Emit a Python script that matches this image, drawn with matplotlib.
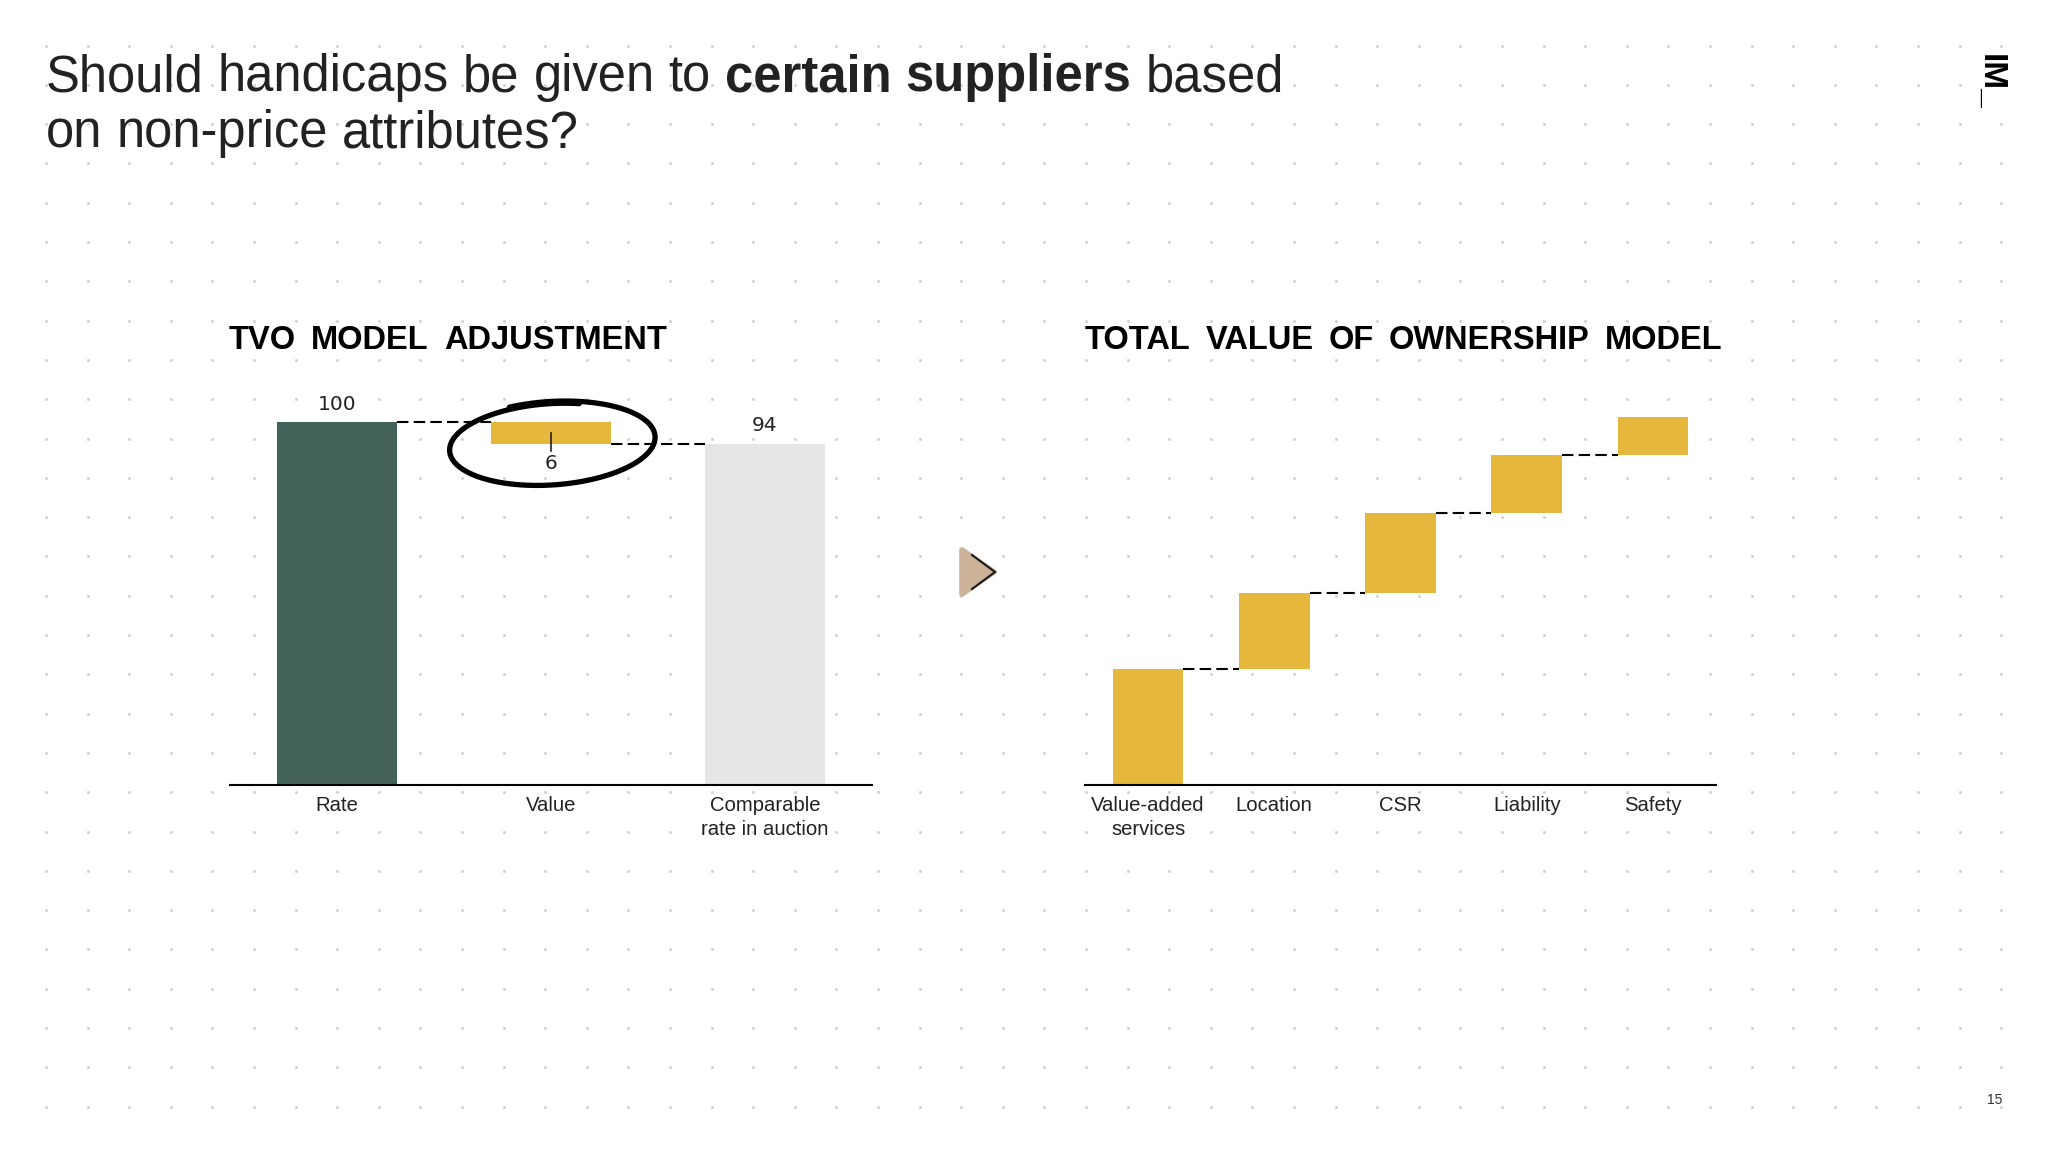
import numpy as np
import matplotlib.pyplot as plt
from matplotlib.patches import Polygon
from matplotlib.transforms import ScaledTranslation

# ── Data ────────────────────────────────────────────────────
tvo_labels = ["Rate", "Value", "Comparable\nrate in auction"]
tvo_values = [100, -6, 94]
tvo_kinds = ["total", "delta", "total"]

tov_labels = ["Value-added\nservices", "Location", "CSR", "Liability", "Safety"]
tov_steps = [32, 21, 22, 16, 10.5]

# ── Style ───────────────────────────────────────────────────
GREEN = "#43625A"
GOLD = "#E5B73C"
GREY = "#E6E6E6"
TAN = "#CBB299"
DOT = "#D4D4D4"
SANS = ["Liberation Sans", "DejaVu Sans"]
NUM = ["DejaVu Sans"]

W, H = 2048, 1152
BAR_W = 0.56
LABEL_SIZE = 14.6
DASH = dict(color="black", lw=1.5, ls=(0, (5.5, 2.5)), zorder=3)

fig = plt.figure(figsize=(W / 100, H / 100), dpi=100, facecolor="white")

# background layer in pixel coordinates (dot grid, texts, arrow)
bg = fig.add_axes([0, 0, 1, 1], zorder=0)
bg.set_xlim(0, W)
bg.set_ylim(H, 0)
bg.axis("off")
gx, gy = np.meshgrid(46 + 41.6 * np.arange(48), 45.5 + 39.3 * np.arange(28))
bg.scatter(gx.ravel(), gy.ravel(), s=5, color=DOT, linewidths=0)

renderer = fig.canvas.get_renderer()


def word_run(x, y, pieces, size, gap, **kw):
    """Lay out (text, weight) pieces one after another on a baseline."""
    for piece, weight in pieces:
        for word in piece.split(" "):
            t = bg.text(x, y, word, fontsize=size, family=SANS, weight=weight,
                        va="baseline", **kw)
            x = t.get_window_extent(renderer).x1 + gap


# ── Slide title (mixed weight) ──────────────────────────────
TITLE_SIZE = 36.5
word_run(46, 91, [("Should handicaps be given to", "normal"),
                  ("certain suppliers", "bold"),
                  ("based", "normal")], TITLE_SIZE, 14, color="#222222")
word_run(46, 147, [("on non-price attributes?", "normal")], TITLE_SIZE, 14,
         color="#222222")

# logo + page number
bg.text(1990, 82, "IM_", rotation=-90, fontsize=24, weight="bold",
        family=SANS, ha="center", va="center", color="black")
bg.text(1995, 1100, "15", fontsize=10, family=SANS, ha="center",
        va="center", color="#333333")

# chart titles
word_run(229, 349, [("TVO MODEL ADJUSTMENT", "bold")], 23.5, 15, color="black")
word_run(1085, 349, [("TOTAL VALUE OF OWNERSHIP MODEL", "bold")], 23.5, 15,
         color="black")

# arrow between the charts
bg.add_patch(Polygon([(962, 550), (962, 594), (994, 572)], closed=True,
                     facecolor=TAN, edgecolor=TAN, lw=4, joinstyle="round"))
bg.plot([972, 995, 972], [555, 572, 589], color="#1a1a1a", lw=1.5,
        solid_joinstyle="miter")


def style_axes(ax, n, labels):
    ax.set_facecolor("none")
    ax.set_xlim(-0.5, n - 0.5)
    ax.set_ylim(0, 110)
    for side in ["top", "right", "left"]:
        ax.spines[side].set_visible(False)
    ax.spines["bottom"].set_linewidth(1.5)
    ax.spines["bottom"].set_zorder(4)
    ax.set_yticks([])
    ax.set_xticks(range(n))
    ax.set_xticklabels(labels, fontsize=LABEL_SIZE, family=SANS,
                       color="#222222", linespacing=1.3)
    ax.tick_params(axis="x", length=0, pad=8)


AX_H = 110 * 3.63 / H

# ── Left: TVO model adjustment waterfall ────────────────────
ax1 = fig.add_axes([230 / W, 1 - 785 / H, 642 / W, AX_H], zorder=1)
style_axes(ax1, len(tvo_labels), tvo_labels)

total_colors = [GREEN, GREY]
running = 0
tops = []
k = 0
for i, (v, kind) in enumerate(zip(tvo_values, tvo_kinds)):
    if kind == "total":
        bottom, height, c = 0, v, total_colors[k]
        k += 1
        running = v
    else:
        bottom, height, c = running + min(v, 0), abs(v), GOLD
        running = running + v
    ax1.bar(i, height, bottom=bottom, width=BAR_W, color=c, zorder=2)
    tops.append((bottom, bottom + height))

# connectors
ax1.plot([0 + BAR_W / 2, 1 - BAR_W / 2], [tops[0][1]] * 2, **DASH)
ax1.plot([1 + BAR_W / 2, 2 - BAR_W / 2], [tops[1][0]] * 2, **DASH)

# value labels
for i in (0, 2):
    ax1.annotate(f"{tvo_values[i]}", xy=(i, tops[i][1]), xytext=(0, 6),
                 textcoords="offset points", ha="center", va="bottom",
                 fontsize=14.5, family=NUM, color="#222222")
d_lo, d_hi = tops[1]
ax1.plot([1, 1], [(d_lo + d_hi) / 2, d_lo - 2], color="#222222", lw=1.2, zorder=3)
ax1.annotate(f"{abs(tvo_values[1])}", xy=(1, d_lo), xytext=(0, -7),
             textcoords="offset points", ha="center", va="top",
             fontsize=14.5, family=NUM, color="#222222")

# hand-drawn circle round the value step (closes with a small overlap)
t = np.linspace(0.40 * np.pi, 2.62 * np.pi, 320)
grow = 1 + 0.06 * (t - t[0]) / (t[-1] - t[0])
ex, ey = 1.0 * np.cos(t) * grow, 0.40 * np.sin(t) * grow
rot = np.deg2rad(4)
rx = ex * np.cos(rot) - ey * np.sin(rot)
ry = ex * np.sin(rot) + ey * np.cos(rot)
loop_tr = fig.dpi_scale_trans + ScaledTranslation(1, d_lo, ax1.transData)
ax1.plot(rx, ry, color="black", lw=3.8, transform=loop_tr, zorder=5,
         solid_capstyle="round", clip_on=False)

# ── Right: total value of ownership waterfall ───────────────
ax2 = fig.add_axes([1085 / W, 1 - 785 / H, 631 / W, AX_H], zorder=1)
style_axes(ax2, len(tov_labels), tov_labels)

cum = np.concatenate([[0], np.cumsum(tov_steps)])
ax2.bar(range(len(tov_steps)), tov_steps, bottom=cum[:-1], width=BAR_W,
        color=GOLD, zorder=2)
for i in range(len(tov_steps) - 1):
    ax2.plot([i + BAR_W / 2, i + 1 - BAR_W / 2], [cum[i + 1]] * 2, **DASH)

fig.savefig("out.png", dpi=100, facecolor="white")
